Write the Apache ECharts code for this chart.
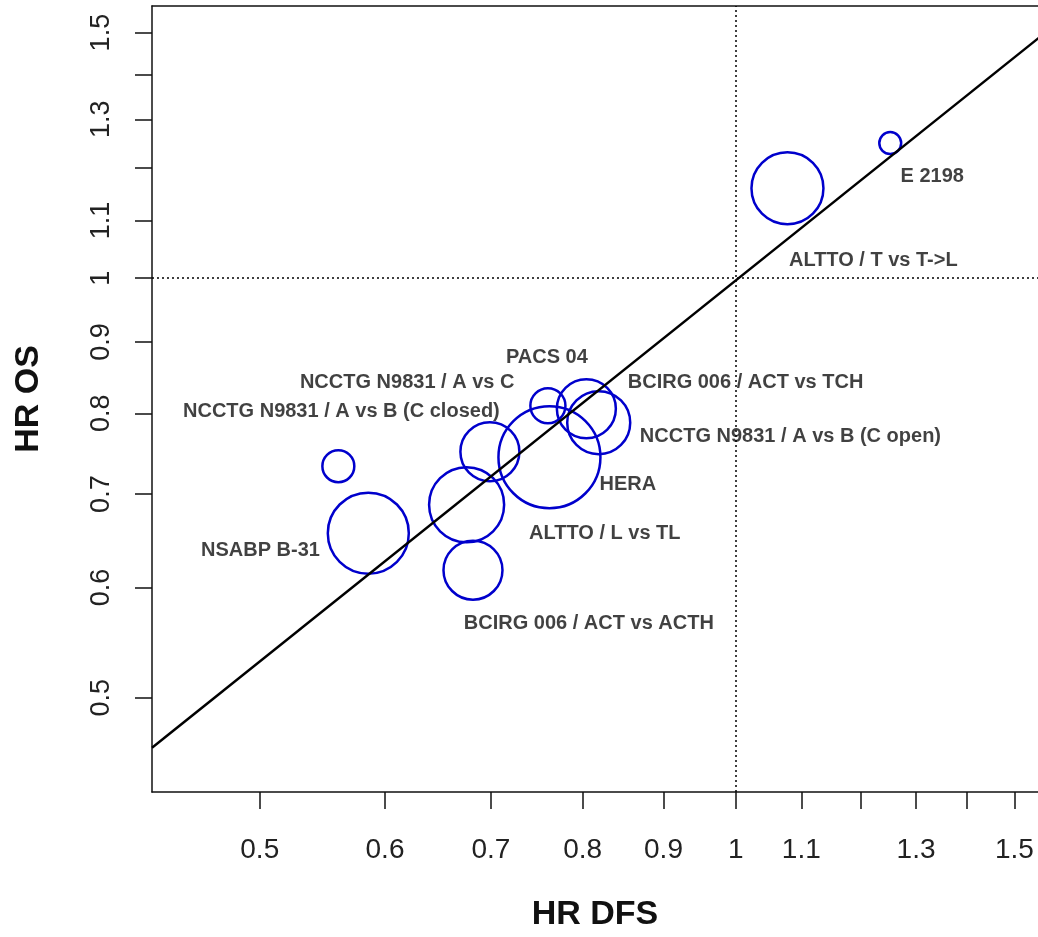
<!DOCTYPE html>
<html><head><meta charset="utf-8">
<script src="https://cdn.jsdelivr.net/npm/echarts@6/dist/echarts.min.js"></script>
<style>html,body{margin:0;padding:0;background:#fff}#c{width:1038px;height:937px}</style>
</head><body><div id="c"></div>
<script>
// ---- data (hazard ratios) ----
const trials = ['E 2198','ALTTO / T vs T->L','PACS 04','BCIRG 006 / ACT vs TCH','NCCTG N9831 / A vs B (C open)','HERA','NCCTG N9831 / A vs C','ALTTO / L vs TL','BCIRG 006 / ACT vs ACTH','NCCTG N9831 / A vs B (C closed)','NSABP B-31'];
const hrDFS = [1.252, 1.078, 0.7606, 0.8044, 0.819, 0.7623, 0.699, 0.6757, 0.682, 0.5606, 0.5856];
const hrOS  = [1.250, 1.160, 0.810, 0.806, 0.7876, 0.744, 0.7508, 0.6878, 0.6174, 0.733, 0.6563];
const weight = [4.8, 51.8, 12.3, 34.8, 39.7, 104, 34.8, 56.3, 34.8, 10.2, 65.6];
const labelDFS = [1.331, 1.2215, 0.7595, 1.0142, 1.0827, 0.8544, 0.6197, 0.8263, 0.8073, 0.5631, 0.5005];
const labelOS  = [1.182, 1.029, 0.8768, 0.8413, 0.7696, 0.711, 0.8413, 0.6557, 0.5652, 0.802, 0.6376];
const fitDFS = [0.4274, 1.56];
const fitOS  = [0.4604, 1.492];
const refHR = 1;
const xTicks = [0.5,0.6,0.7,0.8,0.9,1,1.1,1.2,1.3,1.4,1.5];
const xTickLabels = ['0.5','0.6','0.7','0.8','0.9','1','1.1','','1.3','','1.5'];
const yTicks = [0.5,0.6,0.7,0.8,0.9,1,1.1,1.2,1.3,1.4,1.5];
const yTickLabels = ['0.5','0.6','0.7','0.8','0.9','1','1.1','','1.3','','1.5'];
const xRange = [0.4274, 1.5525];
const yRange = [0.4280, 1.5674];

// ---- build ----
const L = Math.log;
function fmt(ticks, labels){
  return function(v){
    for (let i=0;i<ticks.length;i++) if (Math.abs(L(ticks[i])-v) < 1e-6) return labels[i];
    return '';
  };
}
const bubbles = trials.map((t,i)=>({name:t, value:[L(hrDFS[i]), L(hrOS[i]), weight[i]]}));
const labels = trials.map((t,i)=>({name:t, value:[L(labelDFS[i]), L(labelOS[i])]}));
const fit = fitDFS.map((x,i)=>[L(x), L(fitOS[i])]);
const FONT = '"Liberation Sans", Arial, sans-serif';
const axisCol = '#111';

const option = {
  animation:false,
  backgroundColor:'#fff',
  grid:{left:152, top:6, width:888, height:786, show:false},
  xAxis:[{
    type:'value', min:L(xRange[0]), max:L(xRange[1]),
    splitLine:{show:false},
    axisLine:{show:true, onZero:false, lineStyle:{color:axisCol, width:1.5}},
    axisTick:{show:true, length:17, lineStyle:{color:axisCol, width:1.5}, customValues:xTicks.map(L)},
    axisLabel:{show:true, margin:44, fontSize:28, color:'#222', fontFamily:FONT,
      customValues:xTicks.filter((t,i)=>xTickLabels[i]!=='').map(L), formatter:fmt(xTicks,xTickLabels)},
    name:'HR DFS', nameLocation:'middle', nameGap:106,
    nameTextStyle:{fontSize:34, fontWeight:'bold', color:'#111', fontFamily:FONT}
  },{
    type:'value', position:'top', min:L(xRange[0]), max:L(xRange[1]),
    splitLine:{show:false}, axisTick:{show:false}, axisLabel:{show:false},
    axisLine:{show:true, onZero:false, lineStyle:{color:axisCol, width:1.5}}
  }],
  yAxis:{
    type:'value', min:L(yRange[0]), max:L(yRange[1]),
    splitLine:{show:false},
    axisLine:{show:true, onZero:false, lineStyle:{color:axisCol, width:1.5}},
    axisTick:{show:true, length:17, lineStyle:{color:axisCol, width:1.5}, customValues:yTicks.map(L)},
    axisLabel:{show:true, margin:37, rotate:90, fontSize:27, color:'#222', fontFamily:FONT,
      customValues:yTicks.filter((t,i)=>yTickLabels[i]!=='').map(L), formatter:fmt(yTicks,yTickLabels)},
    name:'HR OS', nameLocation:'middle', nameGap:106, nameRotate:90,
    nameTextStyle:{fontSize:34, fontWeight:'bold', color:'#111', fontFamily:FONT}
  },
  series:[
    {
      type:'scatter', data:labels, silent:true, symbolSize:0,
      label:{show:true, position:'inside', formatter:'{b}', fontSize:20, fontWeight:'bold', color:'#111', fontFamily:FONT},
      z:1
    },
    {
      type:'line', data:fit, showSymbol:false, silent:true, clip:true,
      lineStyle:{color:'#000', width:2.5},
      markLine:{
        silent:true, symbol:'none', label:{show:false},
        lineStyle:{color:'#000', width:1.5, type:[2,3]},
        data:[{xAxis:L(refHR)},{yAxis:L(refHR)}]
      },
      z:3
    },
    {
      type:'scatter', data:bubbles, silent:true,
      symbol:'circle',
      symbolSize:function(v){ return 10*Math.sqrt(v[2]); },
      itemStyle:{color:'rgba(0,0,0,0)', borderColor:'#0000CC', borderWidth:2.5, opacity:1},
      z:2
    }
  ]
};
const chart = echarts.init(document.getElementById('c'), null, {renderer:'canvas'});
chart.setOption(option);
</script>
</body></html>
